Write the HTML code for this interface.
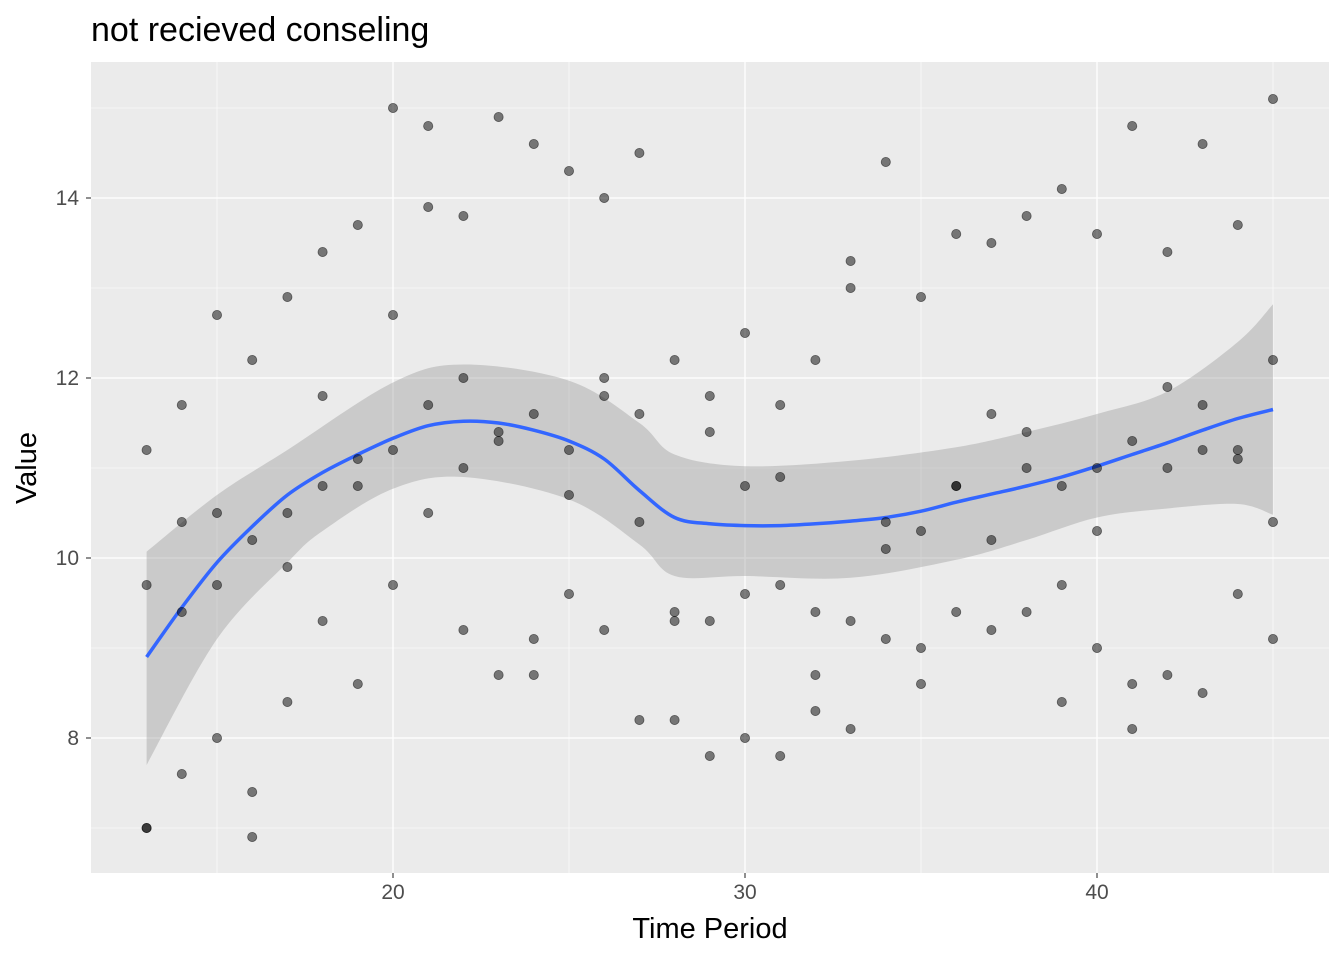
<!DOCTYPE html>
<html><head><meta charset="utf-8"><style>
html,body{margin:0;padding:0;background:#fff;}
svg{display:block;font-family:"Liberation Sans",sans-serif;}
</style></head><body>
<svg id="s" width="1344" height="960" xmlns="http://www.w3.org/2000/svg">
<rect width="1344" height="960" fill="#fff"/>
<rect x="91" y="62" width="1238" height="811" fill="#ebebeb"/>
<g id="grid"></g>
<g id="band"></g>
<g id="line"></g>
<g id="pts"></g>
<text x="91" y="41" font-size="34" fill="#000">not recieved conseling</text>
<g font-size="21" fill="#4d4d4d" text-anchor="end">
<text x="79" y="205">14</text><text x="79" y="385">12</text><text x="79" y="565">10</text><text x="79" y="745">8</text>
</g>
<g font-size="21" fill="#4d4d4d" text-anchor="middle">
<text x="393" y="899">20</text><text x="745" y="899">30</text><text x="1097" y="899">40</text>
</g>
<g stroke="#333" stroke-width="1.1">
<line x1="86" x2="91" y1="198" y2="198"/><line x1="86" x2="91" y1="378" y2="378"/><line x1="86" x2="91" y1="558" y2="558"/><line x1="86" x2="91" y1="738" y2="738"/>
<line x1="393" x2="393" y1="873" y2="878"/><line x1="745" x2="745" y1="873" y2="878"/><line x1="1097" x2="1097" y1="873" y2="878"/>
</g>
<text x="710" y="938" font-size="29" text-anchor="middle" fill="#000">Time Period</text>
<text transform="translate(36,468) rotate(-90)" font-size="29" text-anchor="middle" fill="#000">Value</text>
</svg>
<script>
var X=t=>393+(t-20)*35.2, Y=v=>558-(v-10)*90, NS="http://www.w3.org/2000/svg";
function el(g,tag,a){var e=document.createElementNS(NS,tag);for(var k in a)e.setAttribute(k,a[k]);document.getElementById(g).appendChild(e);}
function cr(p){var o="";for(var i=0;i<p.length-1;i++){var p0=p[i-1]||p[i],p1=p[i],p2=p[i+1],p3=p[i+2]||p2;
o+=" C"+(p1[0]+(p2[0]-p0[0])/6)+","+(p1[1]+(p2[1]-p0[1])/6)+" "+(p2[0]-(p3[0]-p1[0])/6)+","+(p2[1]-(p3[1]-p1[1])/6)+" "+p2[0]+","+p2[1];}return o;}
[15,25,35,45].forEach(t=>el("grid","line",{x1:X(t),x2:X(t),y1:62,y2:873,stroke:"#fff","stroke-width":0.6}));
[7,9,11,13,15].forEach(v=>el("grid","line",{x1:91,x2:1329,y1:Y(v),y2:Y(v),stroke:"#fff","stroke-width":0.6}));
[20,30,40].forEach(t=>el("grid","line",{x1:X(t),x2:X(t),y1:62,y2:873,stroke:"#fff","stroke-width":1.3}));
[8,10,12,14].forEach(v=>el("grid","line",{x1:91,x2:1329,y1:Y(v),y2:Y(v),stroke:"#fff","stroke-width":1.3}));
var up=[[13,10.07],[15,10.7],[17,11.2],[20,11.95],[22,12.15],[25,11.97],[27,11.5],[28,11.15],[30,11.02],[33,11.08],[36,11.23],[38,11.4],[40,11.6],[42,11.85],[44,12.4],[45,12.82]];
var lo=[[13,7.7],[15,9.1],[17,9.95],[18,10.3],[20,10.77],[22,10.9],[25,10.65],[27,10.15],[28,9.8],[30,9.8],[33,9.78],[36,9.98],[38,10.2],[40,10.45],[42,10.55],[44,10.6],[45,10.48]];
var U=up.map(p=>[X(p[0]),Y(p[1])]), L=lo.slice().reverse().map(p=>[X(p[0]),Y(p[1])]);
el("band","path",{d:"M"+U[0]+cr(U)+" L"+L[0]+cr(L)+" Z",fill:"#999","fill-opacity":0.4});
var sm=[8.9,9.45,9.95,10.35,10.7,10.95,11.15,11.33,11.47,11.52,11.5,11.42,11.3,11.1,10.75,10.45,10.38,10.36,10.36,10.38,10.41,10.45,10.52,10.62,10.71,10.8,10.9,11.02,11.15,11.28,11.42,11.55,11.65];
var S=sm.map((v,i)=>[X(13+i),Y(v)]);
el("line","path",{d:"M"+S[0]+cr(S),fill:"none",stroke:"#3366ff","stroke-width":3.5,"stroke-linejoin":"round"});
var d={13:[11.2,9.7,7.0,7.0],14:[11.7,10.4,9.4,7.6],15:[12.7,10.5,9.7,8.0],16:[12.2,10.2,7.4,6.9],17:[12.9,10.5,9.9,8.4],18:[13.4,11.8,10.8,9.3],19:[13.7,11.1,10.8,8.6],20:[15.0,12.7,11.2,9.7],21:[14.8,13.9,11.7,10.5],22:[13.8,12.0,11.0,9.2],23:[14.9,11.4,11.3,8.7],24:[14.6,11.6,9.1,8.7],25:[14.3,11.2,10.7,9.6],26:[14.0,12.0,11.8,9.2],27:[14.5,11.6,10.4,8.2],28:[12.2,9.4,9.3,8.2],29:[11.8,11.4,9.3,7.8],30:[12.5,10.8,9.6,8.0],31:[11.7,10.9,9.7,7.8],32:[12.2,9.4,8.7,8.3],33:[13.3,13.0,9.3,8.1],34:[14.4,10.4,10.1,9.1],35:[12.9,10.3,9.0,8.6],36:[13.6,10.8,10.8,9.4],37:[13.5,11.6,10.2,9.2],38:[13.8,11.4,11.0,9.4],39:[14.1,10.8,9.7,8.4],40:[13.6,11.0,10.3,9.0],41:[14.8,11.3,8.6,8.1],42:[13.4,11.9,11.0,8.7],43:[14.6,11.7,11.2,8.5],44:[13.7,11.2,11.1,9.6],45:[15.1,12.2,10.4,9.1]};
for(var t in d)d[t].forEach(v=>el("pts","circle",{cx:X(+t),cy:Y(v),r:4.6,fill:"#000","fill-opacity":0.5,stroke:"#000","stroke-opacity":0.5,"stroke-width":0.8}));
</script>
</body></html>
